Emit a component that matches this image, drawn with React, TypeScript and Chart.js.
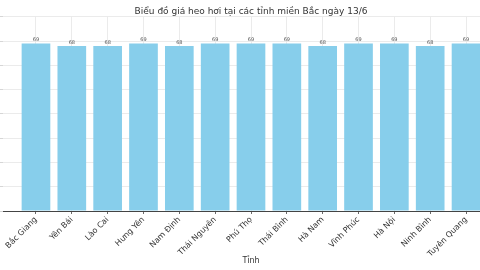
import React, { useEffect, useRef } from "react";
import { Chart, registerables } from "chart.js";

Chart.register(...registerables);

const provinces = [
  "Bắc Giang", "Yên Bái", "Lào Cai", "Hưng Yên", "Nam Định", "Thái Nguyên",
  "Phú Thọ", "Thái Bình", "Hà Nam", "Vĩnh Phúc", "Hà Nội", "Ninh Bình", "Tuyên Quang",
];
const prices = [69, 68, 68, 69, 68, 69, 69, 69, 68, 69, 69, 68, 69];
const chartTitle = "Biểu đồ giá heo hơi tại các tỉnh miền Bắc ngày 13/6";
const xTitle = "Tỉnh";

const FONT = "'DejaVu Sans', sans-serif";

const valueLabels = {
  id: "valueLabels",
  afterDatasetsDraw(chart: any) {
    const ctx = chart.ctx;
    const meta = chart.getDatasetMeta(0);
    ctx.save();
    ctx.font = `5px ${FONT}`;
    ctx.fillStyle = "#555";
    ctx.textAlign = "center";
    ctx.textBaseline = "bottom";
    meta.data.forEach((bar: any, i: number) => {
      ctx.fillText(String(prices[i]), bar.x, bar.y - 1);
    });
    ctx.restore();
  },
};

export default function App() {
  const ref = useRef<HTMLCanvasElement>(null);
  useEffect(() => {
    const canvas = ref.current!;
    const chart = new Chart(canvas, {
      type: "bar",
      data: {
        datasets: [
          {
            data: prices.map((v, i) => ({ x: i, y: v })),
            backgroundColor: "#87CEEB",
            borderWidth: 0,
            categoryPercentage: 1,
            barPercentage: 0.8,
          } as any,
        ],
      },
      options: {
        responsive: false,
        animation: false,
        layout: { padding: { left: 40, right: 40, top: 0, bottom: 0 } },
        plugins: {
          legend: { display: false },
          tooltip: { enabled: false },
          title: {
            display: true,
            text: chartTitle,
            color: "#333",
            font: { family: FONT, size: 9, weight: "normal" },
            padding: { top: 6, bottom: 0 },
          },
        },
        scales: {
          x: {
            type: "linear",
            offset: false,
            min: -0.92,
            max: 12.92,
            afterBuildTicks: (scale: any) => {
              scale.ticks = provinces.map((_, i) => ({ value: i }));
            },
            afterFit: (scale: any) => {
              scale.height = 59;
              scale.paddingLeft = 0;
              scale.paddingRight = 0;
            },
            ticks: {
              autoSkip: false,
              maxRotation: 45,
              minRotation: 45,
              color: "#333",
              padding: 1,
              font: { family: FONT, size: 8 },
              callback: (v: any) => provinces[v as number],
            },
            grid: {
              offset: false,
              color: "#e6e6e6",
              tickColor: "#444",
              tickLength: 3,
              lineWidth: 0.8,
            },
            border: { display: true, color: "#444", width: 1 },
            title: {
              display: true,
              text: xTitle,
              color: "#333",
              font: { family: FONT, size: 8 },
              padding: { top: 0, bottom: 4 },
            },
          },
          y: {
            min: 0,
            max: 80,
            ticks: { stepSize: 10, display: false },
            afterFit: (scale: any) => {
              scale.width = 0;
              scale.paddingTop = 0;
              scale.paddingBottom = 0;
            },
            grid: {
              color: "#e6e6e6",
              tickColor: "#ccc",
              tickLength: 3,
              lineWidth: 0.8,
            },
            border: { display: false },
          },
        },
      } as any,
      plugins: [valueLabels],
    });
    return () => chart.destroy();
  }, []);

  return (
    <div
      style={{
        position: "fixed",
        left: 0,
        top: 0,
        width: 480,
        height: 270,
        overflow: "hidden",
        background: "#fff",
      }}
    >
      <canvas
        ref={ref}
        width={576}
        height={270}
        style={{ position: "absolute", left: -37, top: 0, width: 576, height: 270 }}
      />
    </div>
  );
}
